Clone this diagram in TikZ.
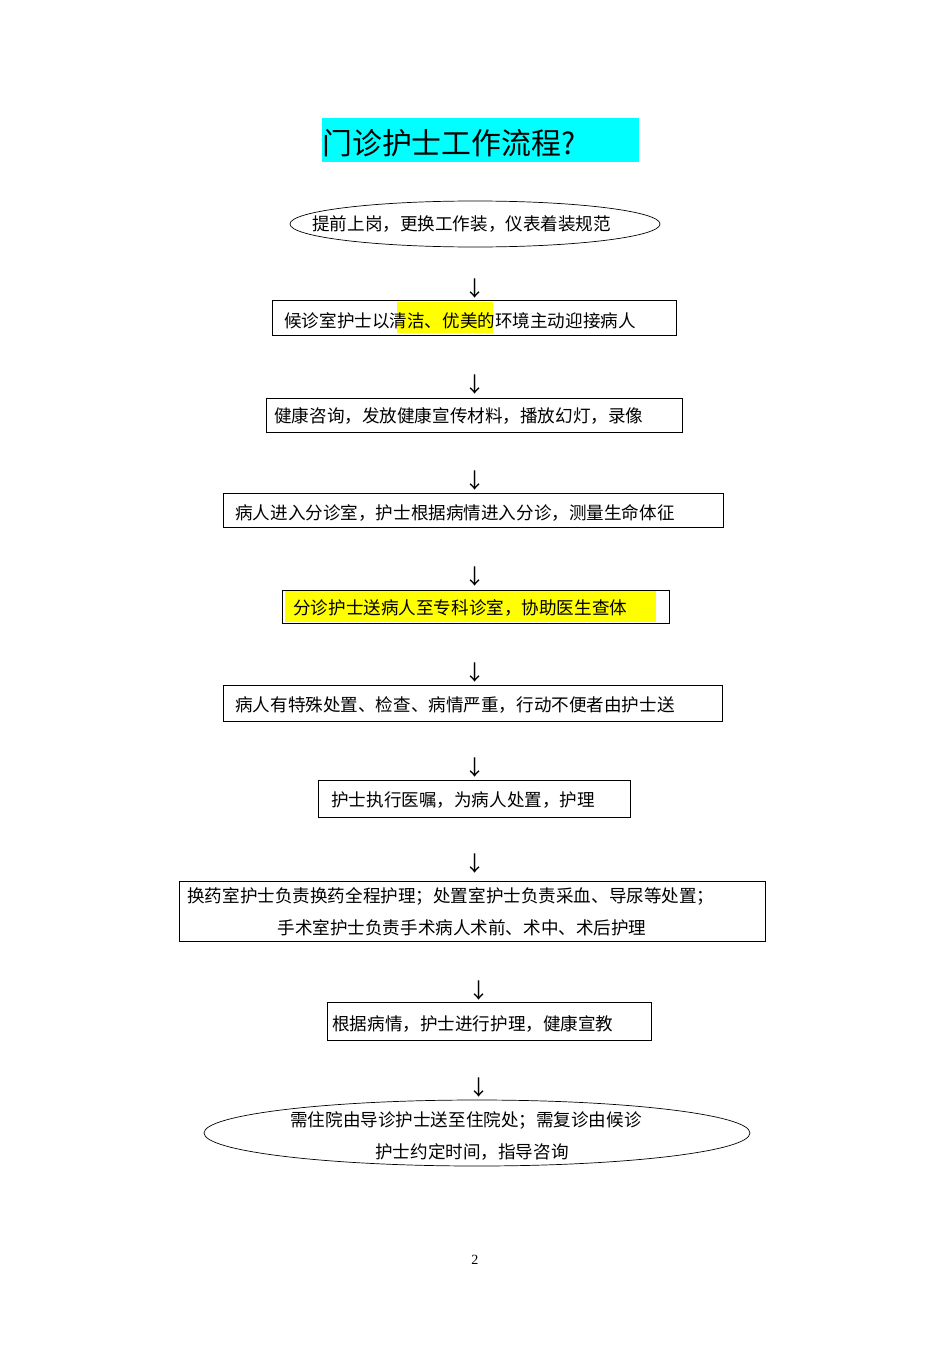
\documentclass[tikz,border=0pt]{standalone}
\usepackage{fontspec}
\setmainfont{Liberation Serif}
\newfontfamily\cjk{Noto Sans CJK SC}
\usetikzlibrary{shapes.geometric}
\definecolor{titlecyan}{RGB}{0,255,255}
\definecolor{hl}{RGB}{255,255,0}
\begin{document}
\begin{tikzpicture}[x=0.02cm,y=-0.02cm,
  box/.style={draw,thin,inner sep=0pt},
  txt/.style={font=\cjk\fontsize{10}{12}\selectfont,inner sep=0pt,anchor=west},
  dn/.style={font=\cjk\fontsize{12}{12}\selectfont,inner sep=0pt}]
\useasboundingbox (0,0) rectangle (950,1345);
% title
\fill[titlecyan] (322,118) rectangle (639,162);
\node[font=\cjk\fontsize{17}{20}\selectfont,anchor=west,inner sep=0pt] (title) at (322,143) {门诊护士工作流程?};
% 1
\node[draw,ellipse,minimum width=370*0.02cm,minimum height=46*0.02cm,inner sep=0pt] (e1) at (475,224) {};
\node[txt] (t1) at (312,224) {提前上岗，更换工作装，仪表着装规范};
\node[dn] (a1) at (475,289) {↓};
% 2
\fill[hl] (397,302) rectangle (493,333);
\node[box,minimum width=404*0.02cm,minimum height=35*0.02cm] (b2) at (474,317.5) {};
\node[txt] (t2) at (284,321) {候诊室护士以清洁、优美的环境主动迎接病人};
\node[dn] (a2) at (475,385) {↓};
% 3
\node[box,minimum width=416*0.02cm,minimum height=34*0.02cm] (b3) at (474,415) {};
\node[txt] (t3) at (274,416) {健康咨询，发放健康宣传材料，播放幻灯，录像};
\node[dn] (a3) at (475,481) {↓};
% 4
\node[box,minimum width=500*0.02cm,minimum height=34*0.02cm] (b4) at (473,510) {};
\node[txt] (t4) at (235,513) {病人进入分诊室，护士根据病情进入分诊，测量生命体征};
\node[dn] (a4) at (475,577) {↓};
% 5
\fill[hl] (285,591) rectangle (656,622);
\node[box,minimum width=387*0.02cm,minimum height=33*0.02cm] (b5) at (475.5,606.5) {};
\node[txt] (t5) at (293,608) {分诊护士送病人至专科诊室，协助医生查体};
\node[dn] (a5) at (475,673) {↓};
% 6
\node[box,minimum width=499*0.02cm,minimum height=36*0.02cm] (b6) at (472.5,703) {};
\node[txt] (t6) at (235,705) {病人有特殊处置、检查、病情严重，行动不便者由护士送};
\node[dn] (a6) at (475,768) {↓};
% 7
\node[box,minimum width=312*0.02cm,minimum height=37*0.02cm] (b7) at (474,798.5) {};
\node[txt] (t7) at (331,800) {护士执行医嘱，为病人处置，护理};
\node[dn] (a7) at (475,864) {↓};
% 8
\node[box,minimum width=586*0.02cm,minimum height=60*0.02cm] (b8) at (472,911) {};
\node[txt] (t8a) at (187,896) {换药室护士负责换药全程护理；处置室护士负责采血、导尿等处置；};
\node[txt,anchor=center] (t8b) at (462,928) {手术室护士负责手术病人术前、术中、术后护理};
\node[dn] (a8) at (479,991) {↓};
% 9
\node[box,minimum width=324*0.02cm,minimum height=38*0.02cm] (b9) at (489,1021) {};
\node[txt] (t9) at (332,1024) {根据病情，护士进行护理，健康宣教};
\node[dn] (a9) at (479,1088) {↓};
% 10
\node[draw,ellipse,minimum width=546*0.02cm,minimum height=66*0.02cm,inner sep=0pt] (e10) at (477,1133) {};
\node[txt,anchor=center] (t10a) at (466,1120) {需住院由导诊护士送至住院处；需复诊由候诊};
\node[txt,anchor=center] (t10b) at (472,1152) {护士约定时间，指导咨询};
\node[font=\fontsize{8}{9}\selectfont,inner sep=0pt] (pg) at (475,1260) {2};
\end{tikzpicture}
\end{document}
